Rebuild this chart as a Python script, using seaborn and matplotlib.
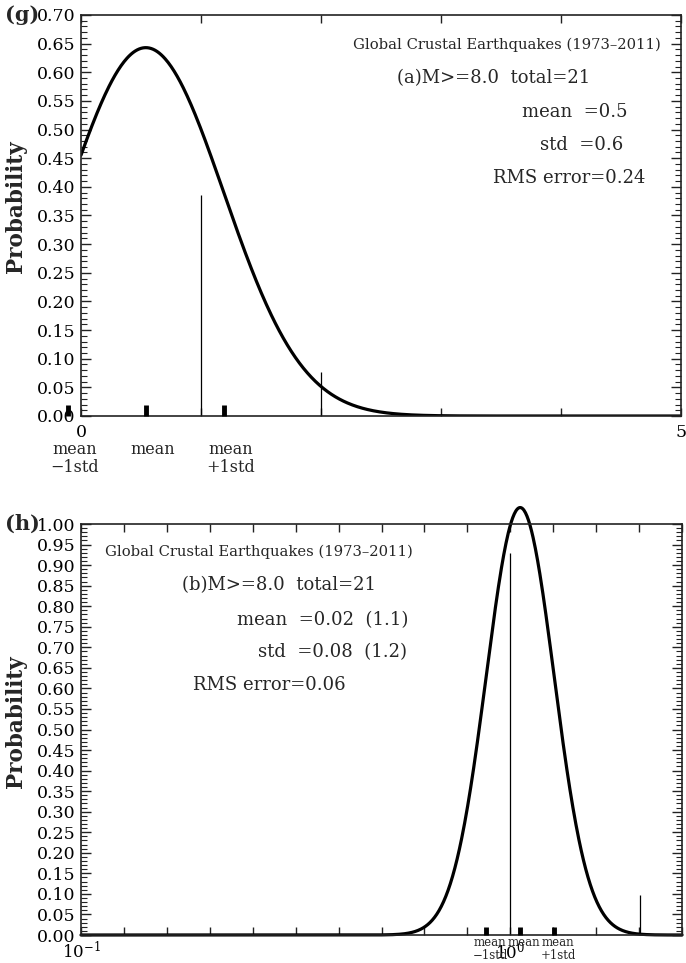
import numpy as np
import pandas as pd
import seaborn as sns
import matplotlib
matplotlib.use("Agg")
import matplotlib.pyplot as plt
from matplotlib.ticker import MultipleLocator, FixedLocator, FixedFormatter

sns.set_theme(style="ticks")
plt.rcParams["font.family"] = ["DejaVu Serif"]
plt.rcParams["mathtext.fontset"] = "dejavuserif"

# ---------------- data: panel (g) (linear x) ----------------
g_mean = 0.54          # marker position of "mean"
g_std = 0.65
g_peak = 0.643
g_bar_x = [1.0, 2.0]
g_bar_p = [0.385, 0.077]
g_xlim = [0, 5]
g_xtick_vals = [0, 1, 2, 3, 4, 5]
g_xtick_labels = ["0", "", "", "", "", "5"]
g_texts = ["Global Crustal Earthquakes (1973\u20132011)",
           "(a)M>=8.0  total=21",
           "mean  =0.5",
           "std  =0.6",
           "RMS error=0.24"]

# ---------------- data: panel (h) (log x) ----------------
h_mean = 0.023          # in log10 units
h_std = 0.079
h_peak = 1.04
h_bar_x = [1.0, 2.0]
h_bar_p = [0.93, 0.097]
h_logxlim = [-1.0, 0.4]
h_xtick_labels = {-1.0: r"$10^{-1}$", 0.0: r"$10^{0}$"}
h_texts = ["Global Crustal Earthquakes (1973\u20132011)",
           "(b)M>=8.0  total=21",
           "mean  =0.02  (1.1)",
           "std  =0.08  (1.2)",
           "RMS error=0.06"]

marker_labels = ["mean\n\u22121std", "mean", "mean\n+1std"]

W, H = 686, 963
fig = plt.figure(figsize=(W / 100, H / 100), dpi=100)


def ax_rect(l, t, r, b):
    return [l / W, 1 - b / H, (r - l) / W, (b - t) / H]


ax1 = fig.add_axes(ax_rect(81, 15, 681, 416))
ax2 = fig.add_axes(ax_rect(81, 524, 682, 935))

for ax in (ax1, ax2):
    for s in ax.spines.values():
        s.set_color("#222222")
        s.set_linewidth(1.2)
    ax.tick_params(axis="both", which="both", direction="in", colors="#222222",
                   labelcolor="black", top=True, right=True)
    ax.tick_params(axis="y", which="major", length=7, width=1, labelsize=12.5, pad=4)
    ax.tick_params(axis="y", which="minor", length=4, width=0.8)
    ax.tick_params(axis="x", which="major", length=6, width=1, labelsize=12.5, pad=6)
    ax.tick_params(axis="x", which="minor", length=0)
    ax.yaxis.set_major_locator(MultipleLocator(0.05))
    ax.yaxis.set_minor_locator(MultipleLocator(0.01))
    ax.yaxis.set_major_formatter(matplotlib.ticker.FormatStrFormatter("%.2f"))
    ax.set_ylabel("Probability", fontsize=15.5, fontweight="bold")
    ax.set_xlabel("")

# ---------------- panel (g) ----------------
xg = np.linspace(g_xlim[0], g_xlim[1], 600)
yg = g_peak * np.exp(-(xg - g_mean) ** 2 / (2 * g_std ** 2))
sns.lineplot(x=xg, y=yg, ax=ax1, color="black", linewidth=2.3, sort=False)
ax1.vlines(g_bar_x, 0, g_bar_p, color="black", linewidth=0.9)
g_marks = [g_mean - g_std, g_mean, g_mean + g_std]
ax1.vlines(g_marks, 0, 0.02, color="black", linewidth=3.5, clip_on=False, zorder=5)
ax1.set_xlim(*g_xlim)
ax1.set_ylim(0, 0.70)
ax1.xaxis.set_major_locator(FixedLocator(g_xtick_vals))
ax1.xaxis.set_major_formatter(FixedFormatter(g_xtick_labels))
ax1.yaxis.set_label_coords(-0.09, 0.521)
for xm, lab in zip(g_marks, marker_labels):
    ax1.annotate(lab, xy=(xm, 0), xycoords=("data", "axes fraction"),
                 xytext=(5, -18), textcoords="offset points", ha="center", va="top",
                 fontsize=11.5, linespacing=1.05, annotation_clip=False)

g_pos = [(0.4533, 0.925, 10.6), (0.527, 0.843, 13), (0.735, 0.758, 13),
         (0.765, 0.676, 13), (0.687, 0.594, 13)]
for (px, py, fs), t in zip(g_pos, g_texts):
    ax1.text(px, py, t, transform=ax1.transAxes, fontsize=fs, ha="left", va="center")

# ---------------- panel (h) ----------------
th = np.linspace(h_logxlim[0], h_logxlim[1], 800)
yh = h_peak * np.exp(-(th - h_mean) ** 2 / (2 * h_std ** 2))
sns.lineplot(x=10 ** th, y=yh, ax=ax2, color="black", linewidth=2.3, sort=False)
for ln in ax2.get_lines():
    ln.set_clip_on(False)
ax2.set_xscale("log")
ax2.vlines(h_bar_x, 0, h_bar_p, color="black", linewidth=0.9)
h_marks = [10 ** (h_mean - h_std), 10 ** h_mean, 10 ** (h_mean + h_std)]
ax2.vlines(h_marks, 0, 0.02, color="black", linewidth=3.5, clip_on=False, zorder=5)
ax2.set_xlim(10 ** h_logxlim[0], 10 ** h_logxlim[1])
ax2.set_ylim(0, 1.0)
ticks_log = np.round(np.arange(h_logxlim[0], h_logxlim[1] + 1e-9, 0.1), 1)
ax2.xaxis.set_major_locator(FixedLocator(10 ** ticks_log))
ax2.xaxis.set_minor_locator(FixedLocator([]))
ax2.xaxis.set_major_formatter(FixedFormatter([h_xtick_labels.get(float(v), "") for v in ticks_log]))
ax2.tick_params(axis="x", which="major", pad=4, labelsize=12)
ax2.yaxis.set_label_coords(-0.09, 0.518)
for xm, lab in zip(h_marks, marker_labels):
    ax2.annotate(lab, xy=(xm, 0), xycoords=("data", "axes fraction"),
                 xytext=(3, -1), textcoords="offset points", ha="center", va="top",
                 fontsize=8.5, linespacing=0.95, annotation_clip=False)

h_pos = [(0.040, 0.932, 10.6), (0.168, 0.852, 13), (0.260, 0.766, 13),
         (0.2945, 0.689, 13), (0.186, 0.608, 13)]
for (px, py, fs), t in zip(h_pos, h_texts):
    ax2.text(px, py, t, transform=ax2.transAxes, fontsize=fs, ha="left", va="center")

fig.text(5 / W, 1 - 15 / H, "(g)", fontsize=15, fontweight="bold", ha="left", va="center")
fig.text(5 / W, 1 - 524 / H, "(h)", fontsize=15, fontweight="bold", ha="left", va="center")

fig.savefig("out.png", dpi=100)
